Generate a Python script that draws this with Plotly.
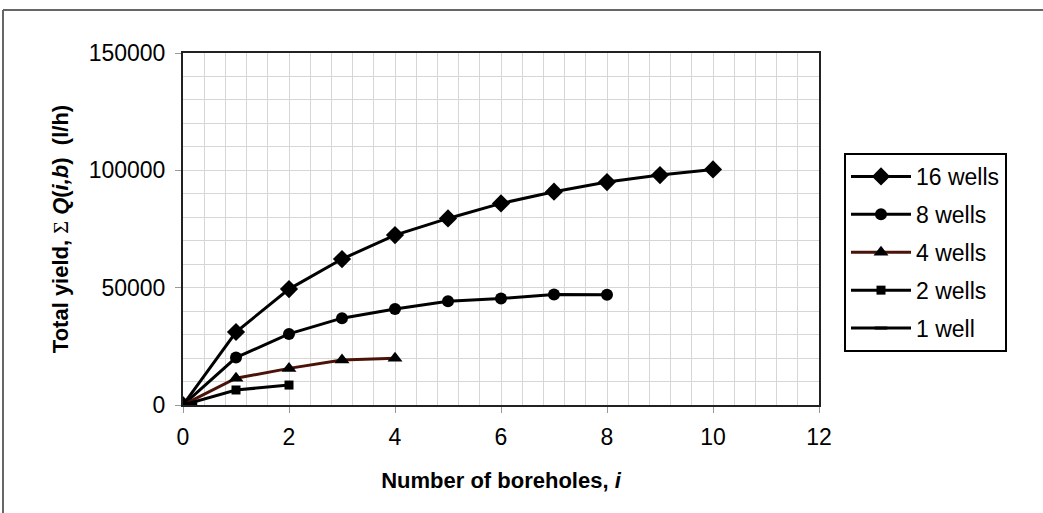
import plotly.graph_objects as go

# ---- data ----
boreholes_16 = [0, 1, 2, 3, 4, 5, 6, 7, 8, 9, 10]
yield_16 = [0, 31100, 49400, 62200, 72400, 79500, 85900, 90900, 95000, 98000, 100400]

boreholes_8 = [0, 1, 2, 3, 4, 5, 6, 7, 8]
yield_8 = [0, 20200, 30300, 37000, 40900, 44200, 45400, 47100, 47000]

boreholes_4 = [0, 1, 2, 3, 4]
yield_4 = [0, 11400, 15600, 19200, 19900]

boreholes_2 = [0, 1, 2]
yield_2 = [0, 6400, 8500]

boreholes_1 = [0, 0.15]
yield_1 = [0, 600]

series_names = ["16 wells", "8 wells", "4 wells", "2 wells", "1 well"]
x_ticks = [0, 2, 4, 6, 8, 10, 12]
y_ticks = [0, 50000, 100000, 150000]

FONT = "Arial, Liberation Sans, sans-serif"

# plot-area geometry in pixels (used only for decorative frame placement)
W, H = 1043, 513
L, R, T, B = 183, 224, 53, 108
pw, ph = W - L - R, H - T - B


def px_to_paper_x(px):
    return (px - L) / pw


def px_to_paper_y(py):
    return (H - B - py) / ph


fig = go.Figure()

styles = [
    (boreholes_16, yield_16, "diamond", 14, "#000000"),
    (boreholes_8, yield_8, "circle", 12, "#000000"),
    (boreholes_4, yield_4, "triangle-up", 13, "#4a1208"),
    (boreholes_2, yield_2, "square", 9, "#000000"),
    (boreholes_1, yield_1, "line-ew", 9, "#000000"),
]

for name, (xs, ys, sym, size, col) in zip(series_names, styles):
    marker = dict(symbol=sym, size=size, color="#000000")
    if sym == "line-ew":
        marker = dict(symbol=sym, size=size, color="#000000",
                      line=dict(color="#000000", width=3))
    fig.add_trace(go.Scatter(
        x=xs, y=ys, name=name, mode="lines+markers",
        line=dict(color=col, width=3),
        marker=marker,
        legendgroup=name,
    ))

fig.update_layout(
    width=W, height=H,
    margin=dict(l=L, r=R, t=T, b=B),
    paper_bgcolor="white",
    plot_bgcolor="white",
    font=dict(family=FONT, size=23, color="#000000"),
    showlegend=True,
    legend=dict(
        x=px_to_paper_x(844), y=px_to_paper_y(153),
        xanchor="left", yanchor="top",
        bordercolor="#000000", borderwidth=2,
        bgcolor="white",
        font=dict(family=FONT, size=23, color="#000000"),
        itemwidth=60,
        tracegroupgap=5,
        traceorder="grouped",
    ),
    xaxis=dict(
        range=[0, 12],
        tickvals=x_ticks,
        ticktext=[str(v) for v in x_ticks],
        ticks="outside", ticklen=6, tickcolor="#999999",
        ticklabelstandoff=4,
        tickfont=dict(size=23),
        showline=True, linecolor="#222222", linewidth=2, mirror=True,
        showgrid=True, gridcolor="#d6d6d2", gridwidth=1,
        minor=dict(dtick=0.4, showgrid=True, gridcolor="#d6d6d2", gridwidth=1),
        zeroline=False,
        title=dict(text="<b>Number of boreholes, <i>i</i></b>",
                   font=dict(family=FONT, size=22), standoff=24),
    ),
    yaxis=dict(
        range=[0, 150000],
        tickvals=y_ticks,
        ticktext=[str(v) for v in y_ticks],
        ticks="outside", ticklen=6, tickcolor="#999999",
        ticklabelstandoff=5,
        tickfont=dict(size=23),
        showline=True, linecolor="#222222", linewidth=2, mirror=True,
        showgrid=True, gridcolor="#d6d6d2", gridwidth=1,
        minor=dict(dtick=10000, showgrid=True, gridcolor="#d6d6d2", gridwidth=1),
        zeroline=False,
        title=dict(
            text="<b>Total yield, </b><span style=\"font-family:'Liberation Serif',serif\">Σ</span><b> <i>Q</i>(<i>i,b</i>)  (l/h)</b>",
            font=dict(family=FONT, size=22), standoff=14),
    ),
)

# outer frame of the figure (top and left edges visible in reference)
fig.add_shape(type="line", xref="paper", yref="paper",
              x0=px_to_paper_x(3), x1=px_to_paper_x(1043),
              y0=px_to_paper_y(10), y1=px_to_paper_y(10),
              line=dict(color="#666666", width=2))
fig.add_shape(type="line", xref="paper", yref="paper",
              x0=px_to_paper_x(3), x1=px_to_paper_x(3),
              y0=px_to_paper_y(10), y1=px_to_paper_y(513),
              line=dict(color="#666666", width=2))

fig.write_html(
    "out.html",
    config={"displayModeBar": False},
    post_script="document.body.style.margin='0';document.body.style.padding='0';",
)
